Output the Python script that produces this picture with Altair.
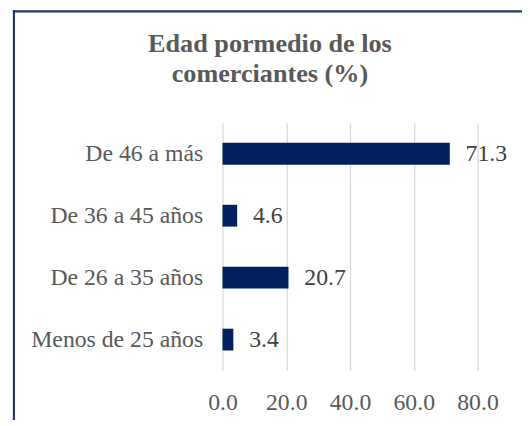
import altair as alt
import pandas as pd

categories = ["De 46 a más", "De 36 a 45 años", "De 26 a 35 años", "Menos de 25 años"]
values = [71.3, 4.6, 20.7, 3.4]
tick_values = [0, 20, 40, 60, 80]
title_lines = ["Edad pormedio de los", "comerciantes (%)"]

FONT = "Liberation Serif"
df = pd.DataFrame({"cat": categories, "val": values})

y_enc = alt.Y(
    "cat:N",
    sort=categories,
    scale=alt.Scale(paddingInner=0.648, paddingOuter=0.324),
    axis=alt.Axis(
        title=None, labelFont=FONT, labelFontSize=24, labelColor="#595959",
        labelPadding=20, ticks=False, domain=False, labelLimit=400, grid=False,
    ),
)
x_enc = alt.X(
    "val:Q",
    scale=alt.Scale(domain=[0, 80], nice=False),
    axis=alt.Axis(
        values=tick_values, format=".1f", title=None, grid=True,
        gridColor="#D9D9D9", gridWidth=1.3, domain=False, ticks=False,
        labelPadding=20, labelFlush=False, labelFont=FONT, labelFontSize=24,
        labelColor="#595959",
    ),
)

base = alt.Chart(df)
bars = base.mark_bar(color="#002060").encode(x=x_enc, y=y_enc)
labels = base.mark_text(
    align="left", baseline="middle", dx=16, font=FONT, fontSize=24, color="#404040"
).encode(
    x=alt.X("val:Q"),
    y=alt.Y("cat:N", sort=categories),
    text=alt.Text("val:Q", format=".1f"),
)

single = alt.Data(values=[{}])
title_mark = alt.Chart(single).mark_text(
    text=title_lines, font=FONT, fontSize=26.5, fontWeight="bold", color="#595959",
    align="center", baseline="alphabetic", lineHeight=31,
).encode(x=alt.value(48), y=alt.value(-72))

left_border = alt.Chart(single).mark_rule(color="#1F3864", strokeWidth=2.2).encode(
    x=alt.value(-211), y=alt.value(-114), y2=alt.value(320)
)
top_border = alt.Chart(single).mark_rule(color="#1F3864", strokeWidth=2.2).encode(
    x=alt.value(-212), x2=alt.value(320), y=alt.value(-112.7)
)

chart = alt.layer(bars, labels, title_mark, left_border, top_border).properties(
    width=258,
    height=250.7,
    autosize=alt.AutoSizeParams(type="none"),
    padding={"left": 217, "top": 113.7, "right": 45, "bottom": 48},
).configure_view(stroke=None)

chart.save("out.html", embed_options={"renderer": "svg", "actions": False})
